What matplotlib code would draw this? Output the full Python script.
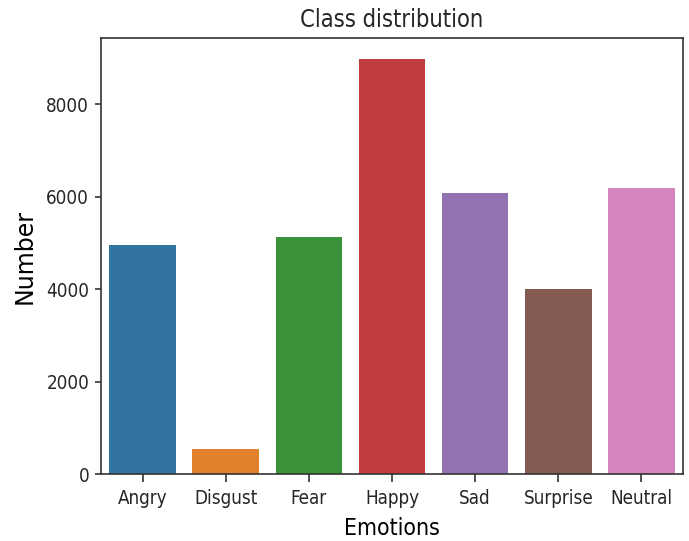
"""Class distribution of emotion labels."""

import matplotlib
matplotlib.use("Agg")
import matplotlib.pyplot as plt

EMOTIONS = ["Angry", "Disgust", "Fear", "Happy", "Sad", "Surprise", "Neutral"]
COUNTS = [4953, 547, 5121, 8989, 6077, 4002, 6198]
COLORS = ["#3274a1", "#e1812c", "#3a923a", "#c03d3e", "#9372b2", "#845b53", "#d684bd"]

# the reference looks vertically stretched, so horizontal text is narrow
plt.rcParams["font.stretch"] = "condensed"
plt.rcParams["text.color"] = "#262626"


def main() -> None:
    fig = plt.figure(figsize=(6.89, 5.41), dpi=100)
    ax = fig.add_axes([101 / 689, 1 - 474 / 541, 582 / 689, 436 / 541])
    ax.bar(range(len(EMOTIONS)), COUNTS, width=0.8, color=COLORS)
    ax.set_xticks(range(len(EMOTIONS)))
    ax.set_xticklabels(EMOTIONS)
    ax.set_xlim(-0.5, len(EMOTIONS) - 0.5)
    ax.tick_params(labelsize=13.5, width=1.2, colors="#333333", labelcolor="#262626")
    ax.tick_params(axis="x", length=5.5, pad=5.5)
    ax.tick_params(axis="y", length=4, pad=4.5)
    for side in ax.spines.values():
        side.set_linewidth(1.2)
        side.set_color("#333333")
    ax.set_xlabel("Emotions", fontsize=16.5, labelpad=6.5)
    ax.set_ylabel("Number", fontsize=17, fontstretch="normal", labelpad=7)
    ax.set_title("Class distribution", fontsize=17, pad=8)
    fig.savefig("out.png", dpi=100)


if __name__ == "__main__":
    main()
